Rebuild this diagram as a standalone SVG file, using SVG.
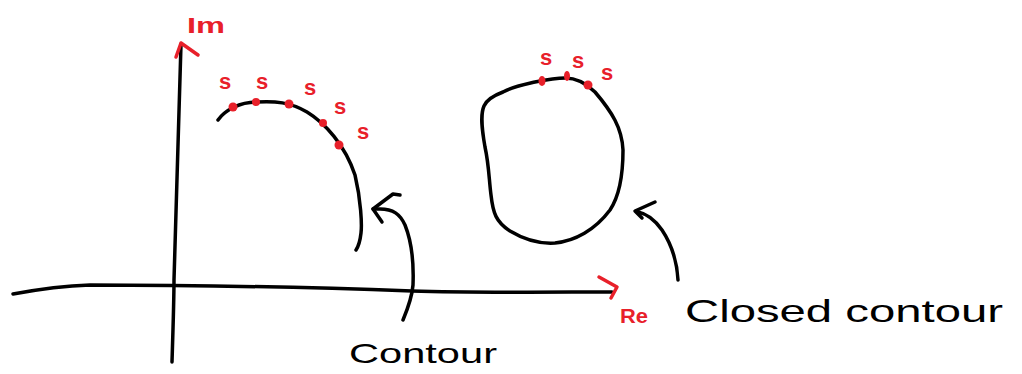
<svg xmlns="http://www.w3.org/2000/svg" width="1022" height="374" viewBox="0 0 1022 374">
<style>
.ink{fill:none;stroke:#000;stroke-width:3.5;stroke-linecap:round;stroke-linejoin:round}
.red{fill:none;stroke:#e8202a;stroke-width:3.5;stroke-linecap:round;stroke-linejoin:round}
.dot{fill:#e8202a}
.s{font-family:"Liberation Sans",Arial,sans-serif;font-size:22px;font-weight:bold;fill:#e8202a;text-anchor:middle}
.lab{font-family:"Liberation Sans",Arial,sans-serif;fill:#000}
.rl{font-family:"Liberation Sans",Arial,sans-serif;fill:#e8202a;font-weight:bold}
</style>
<rect width="1022" height="374" fill="#fff"/>
<g id="axes">
<path class="ink" d="M13,294 C40,289 60,286 90,285 C200,285 300,287 412,291 C480,293 560,292 612,292"/>
<path class="ink" d="M172,362 C173,330 174,300 174,280 C176,200 178,120 181,44"/>
<path class="red" d="M176,57 L181,43 L198,55"/>
<path class="red" d="M599,277 L617,287 L611,298"/>
<text class="rl" x="187" y="33" font-size="22" textLength="38" lengthAdjust="spacingAndGlyphs">Im</text>
<text class="rl" x="620" y="323" font-size="20" textLength="28" lengthAdjust="spacingAndGlyphs">Re</text>
</g>
<g id="open-contour">
<path class="ink" d="M218,120 C225,110 240,102 257,102 C275,101 290,102 307,112 C325,123 345,145 355,175 C361,200 362,225 361,233 C360,242 358,247 356,250"/>
<circle class="dot" cx="233" cy="107" r="4.5"/>
<circle class="dot" cx="256" cy="102" r="4"/>
<circle class="dot" cx="289" cy="104" r="4.5"/>
<circle class="dot" cx="323" cy="123" r="4"/>
<circle class="dot" cx="339" cy="145" r="4.5"/>
<text class="s" x="225" y="89">s</text>
<text class="s" x="262" y="89">s</text>
<text class="s" x="310" y="95">s</text>
<text class="s" x="340" y="114">s</text>
<text class="s" x="363" y="139">s</text>
</g>
<g id="closed-contour">
<path class="ink" d="M503,92 C495,95 487,99 484,106 C480,115 482,130 485,147 C489,165 489,180 491,195 C493,213 496,222 510,231 C525,240 540,244 555,243 C575,241 595,230 610,210 C620,195 623,175 623,150 C622,128 612,112 595,92 C585,82 575,78 565,78 C555,78 545,80 535,82 C522,85 512,87 503,92 Z"/>
<ellipse class="dot" cx="542" cy="81" rx="3.5" ry="5"/>
<ellipse class="dot" cx="567" cy="76" rx="3" ry="5"/>
<circle class="dot" cx="588" cy="85" r="4.5"/>
<text class="s" x="546" y="65">s</text>
<text class="s" x="578" y="68">s</text>
<text class="s" x="607" y="80">s</text>
</g>
<g id="connectors">
<path class="ink" d="M403,320 C408,308 412,298 413,285 C414,260 411,240 405,225 C400,214 393,209 380,209 L373,209"/>
<path class="ink" d="M400,195 L393,194 L373,209 L382,222"/>
<path class="ink" d="M678,280 C677,262 672,245 662,230 C655,220 648,214 638,212"/>
<path class="ink" d="M655,202 L635,211 L642,218"/>
</g>
<g id="labels">
<text class="lab" x="349" y="363" font-size="28" textLength="148" lengthAdjust="spacingAndGlyphs">Contour</text>
<text class="lab" x="685" y="322" font-size="32" textLength="318" lengthAdjust="spacingAndGlyphs">Closed contour</text>
</g>
</svg>
